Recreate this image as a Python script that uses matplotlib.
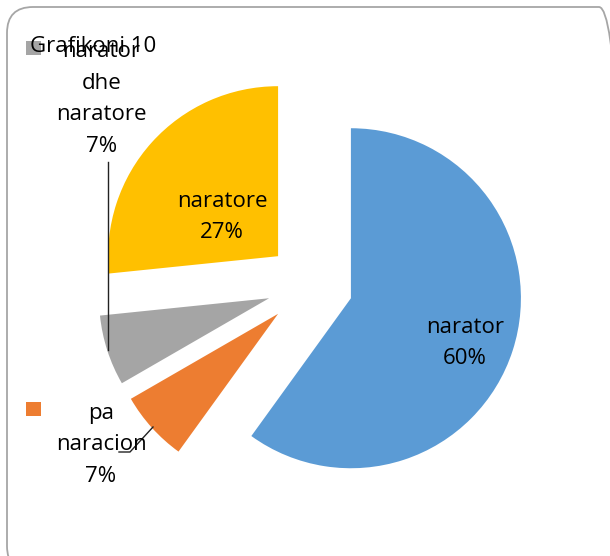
import matplotlib
matplotlib.use('Agg')
import matplotlib.pyplot as plt
from matplotlib.patches import FancyBboxPatch, Rectangle

# ---- data ----
categories = ['narator', 'pa naracion', 'narator dhe naratore', 'naratore']
values = [59.9, 6.7, 6.7, 26.6]
colors = ['#5B9BD5', '#ED7D31', '#A5A5A5', '#FFC000']
title = 'Grafikoni 10'

W, H = 610, 556
FONT = ['Open Sans', 'DejaVu Sans']
FS = 16
LS = 1.65

fig = plt.figure(figsize=(W / 100, H / 100), dpi=100)
ax = fig.add_axes([0, 0, 1, 1])

def py(y):
    return H - y

total = sum(values)
pcts = [f"{v / total * 100:.0f}%" for v in values]

ax.pie(values, colors=colors, startangle=90, counterclock=False,
       center=(310, py(285)), radius=170, explode=[43] * len(values),
       wedgeprops=dict(linewidth=0))

ax.set_xlim(0, W)
ax.set_ylim(0, H)
ax.set_aspect('equal')
ax.axis('off')

# frame
frame = FancyBboxPatch((7, py(572)), 618, 565,
                       boxstyle='round,pad=0,rounding_size=26',
                       fc='none', ec='#A6A6A6', lw=1.3, zorder=0)
ax.add_patch(frame)

# leader lines
ax.plot([108, 108], [py(162), py(350)], color='#222222', lw=1, zorder=3)
ax.plot([153, 130, 119], [py(427), py(452), py(452)], color='#222222', lw=1, zorder=3)

# label texts
label_text = {
    0: f"narator\n{pcts[0]}",
    1: f"pa\nnaracion\n{pcts[1]}",
    2: f"narator\ndhe\nnaratore\n{pcts[2]}",
    3: f"naratore\n{pcts[3]}",
}
label_pos = {0: (465, 343), 1: (101, 445), 2: (101.5, 99), 3: (222, 217)}
for i, txt in label_text.items():
    x, y = label_pos[i]
    ax.text(x, py(y), txt, ha='center', va='center', fontsize=FS,
            family=FONT, linespacing=LS, color='black', zorder=4)

# legend keys in labels
ax.add_patch(Rectangle((26, py(55)), 15, 14, fc=colors[2], ec='none', zorder=4))
ax.add_patch(Rectangle((26, py(416)), 15, 14, fc=colors[1], ec='none', zorder=4))

# title
ax.text(30, py(52), title, ha='left', va='baseline', fontsize=FS,
        family=FONT, color='black', zorder=5)

fig.savefig('out.png', dpi=100)
